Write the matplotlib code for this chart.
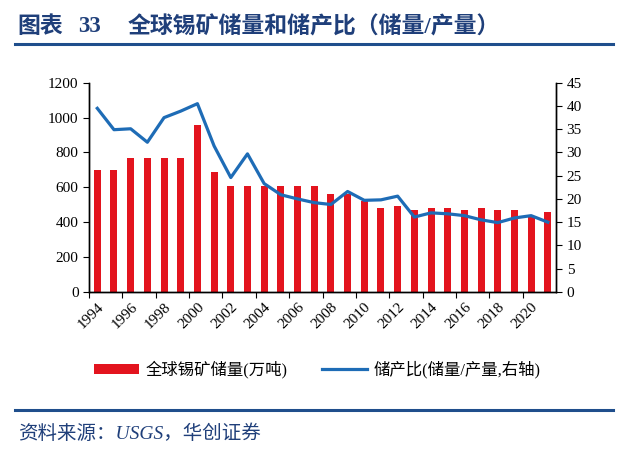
import numpy as np
import matplotlib
matplotlib.use('Agg')
import matplotlib.pyplot as plt
from matplotlib.lines import Line2D

plt.rcParams['font.family'] = ['Liberation Serif', 'Noto Sans CJK SC']
plt.rcParams['axes.unicode_minus'] = False

# 数据：年份、全球锡矿储量(万吨)、储产比
years = list(range(1994, 2022))
reserves = [700, 700, 770, 770, 770, 770, 960, 690, 610, 610,
            610, 610, 610, 610, 560, 560, 520, 480, 490, 470,
            480, 480, 470, 480, 470, 470, 430, 460]
ratio = [39.5, 34.9, 35.1, 32.2, 37.5, 38.9, 40.5, 31.4, 24.6, 29.7,
         23.3, 20.9, 20.0, 19.2, 18.8, 21.6, 19.7, 19.8, 20.6, 16.1,
         17.0, 16.8, 16.4, 15.5, 14.9, 15.9, 16.4, 15.0]

title_prefix = '图表'
title_num = '33'
title_main = '全球锡矿储量和储产比（储量/产量）'
source_text = '资料来源：USGS，华创证券'
bar_label = '全球锡矿储量(万吨)'
line_label = '储产比(储量/产量,右轴)'

navy = '#1F3F7A'
bar_color = '#E3141E'
line_color = '#1E6CB6'

fig = plt.figure(figsize=(6.4, 4.73), dpi=100)
ax = fig.add_axes([0.139, 0.383, 0.730, 0.442])
ax2 = ax.twinx()

x = np.arange(len(years))
bars = ax.bar(x, reserves, width=0.42, color=bar_color, zorder=2)
ln, = ax2.plot(x, ratio, color=line_color, linewidth=2.3, zorder=3)

ax.set_xlim(-0.5, len(years) - 0.5)
ax.set_ylim(0, 1200)
ax.set_yticks(range(0, 1201, 200))
ax2.set_ylim(0, 45)
ax2.set_yticks(range(0, 46, 5))

# x轴刻度在类别之间，标签每两年一个
ax.set_xticks(np.arange(-0.5, len(years) - 0.5, 2))
ax.set_xticklabels([])
ax.set_xticks(x[::2], minor=True)
ax.set_xticklabels([str(y) for y in years[::2]], minor=True, rotation=45,
                   ha='right', rotation_mode='anchor', fontsize=11)
ax.tick_params(axis='x', which='minor', length=0, pad=6)
ax.tick_params(axis='x', which='major', length=4, direction='out')
ax.tick_params(axis='y', labelsize=11, length=4)
ax2.tick_params(axis='y', labelsize=11, length=4)

for a in (ax, ax2):
    a.spines['top'].set_visible(False)
    for s in ('left', 'right', 'bottom'):
        a.spines[s].set_color('black')
        a.spines[s].set_linewidth(1.0)

# 图例
fig.legend([bars, ln], [bar_label, line_label], loc='center',
           bbox_to_anchor=(0.496, 0.218), ncol=2, frameon=False,
           fontsize=11.8, handlelength=2.75, handleheight=0.6,
           columnspacing=2.1, handletextpad=0.4)

# 标题和分隔线
fig.text(0.027, 0.943, title_prefix, fontsize=16.5, fontweight='bold',
         color=navy, va='center', ha='left')
fig.text(0.122, 0.943, title_num, fontsize=16.5, fontweight='bold',
         color=navy, va='center', ha='left')
fig.text(0.200, 0.943, title_main, fontsize=16.5, fontweight='bold',
         color=navy, va='center', ha='left')
fig.add_artist(Line2D([0.023, 0.958], [0.908, 0.908], color='#1F4E8C',
                      linewidth=2.2, transform=fig.transFigure))
fig.add_artist(Line2D([0.023, 0.958], [0.133, 0.133], color='#1F4E8C',
                      linewidth=2.2, transform=fig.transFigure))
fig.text(0.028, 0.082, source_text, fontsize=14, color=navy,
         style='italic', va='center', ha='left')

fig.savefig('out.png', dpi=100)
